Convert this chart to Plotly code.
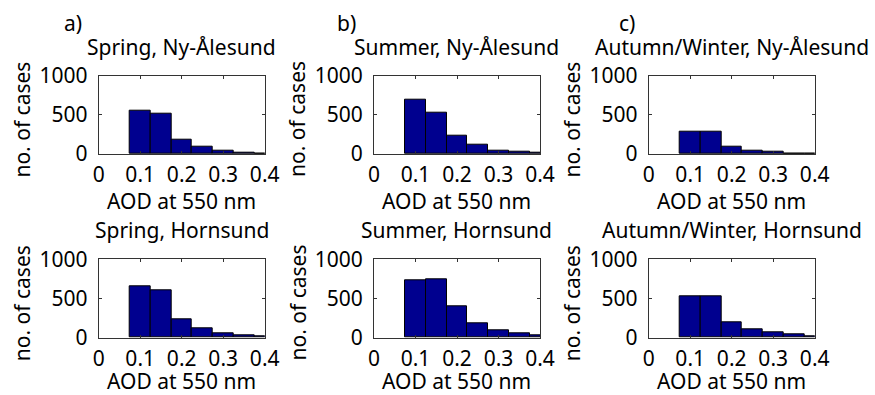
import plotly.graph_objects as go

# Histogram bin centres (AOD at 550 nm)
bin_centers = [0.10, 0.15, 0.20, 0.25, 0.30, 0.35, 0.40]
bin_width = 0.05

spring_ny = [553, 515, 187, 92, 43, 20, 3]
spring_hs = [651, 600, 230, 115, 51, 26, 13]
summer_ny = [698, 523, 238, 115, 43, 26, 13]
summer_hs = [732, 745, 404, 183, 94, 51, 30]
autumn_ny = [285, 285, 94, 45, 28, 5, 2]
autumn_hs = [528, 528, 196, 102, 64, 38, 17]

titles = ["Spring, Ny-Ålesund", "Summer, Ny-Ålesund", "Autumn/Winter, Ny-Ålesund",
          "Spring, Hornsund", "Summer, Hornsund", "Autumn/Winter, Hornsund"]
panel_letters = ["a)", "b)", "c)"]
x_ticks = [0, 0.1, 0.2, 0.3, 0.4]
x_ticktext = ["0", "0.1", "0.2", "0.3", "0.4"]
y_ticks = [0, 500, 1000]
x_label = "AOD at 550 nm"
y_label = "no. of cases"

series = [spring_ny, summer_ny, autumn_ny, spring_hs, summer_hs, autumn_hs]

W, H = 875, 395
FONT = "Noto Sans"
FS = 21
BAR_COLOR = "#00008F"

col_left = [98.7, 374.0, 648.7]
ax_w = 166.0
row_top = [75.7, 259.3]
ax_h = 78.4
xlabel_gap = [46.5, 43.0]

fig = go.Figure()
annotations = []

for i, vals in enumerate(series):
    r, c = divmod(i, 3)
    n = i + 1
    xa = "x" if n == 1 else f"x{n}"
    ya = "y" if n == 1 else f"y{n}"
    fig.add_trace(go.Bar(
        x=bin_centers, y=vals, width=bin_width,
        marker=dict(color=BAR_COLOR, line=dict(color="black", width=1)),
        xaxis=xa, yaxis=ya, showlegend=False, hoverinfo="x+y",
    ))
    x0 = col_left[c]
    x1 = x0 + ax_w
    y0 = row_top[r]
    y1 = y0 + ax_h
    axis_common = dict(showline=True, linecolor="#333333", linewidth=1, mirror="ticks",
                       ticks="inside", ticklen=3, tickcolor="#333333", showgrid=False,
                       zeroline=False, automargin=False,
                       tickfont=dict(family=FONT, size=FS, color="black"))
    fig.update_layout(**{
        ("xaxis" if n == 1 else f"xaxis{n}"): dict(
            domain=[x0 / W, x1 / W], anchor=ya, range=[0, 0.4],
            tickvals=x_ticks, ticktext=x_ticktext, ticklabelstandoff=2, **axis_common),
        ("yaxis" if n == 1 else f"yaxis{n}"): dict(
            domain=[1 - y1 / H, 1 - y0 / H], anchor=xa, range=[0, 1000],
            tickvals=y_ticks, ticklabelstandoff=6, **axis_common),
    })
    cx = (x0 + x1) / 2
    annotations.append(dict(text=titles[i], x=cx / W, y=1 - (y0 - 29) / H,
                            xref="paper", yref="paper", showarrow=False,
                            xanchor="center", yanchor="middle",
                            font=dict(family=FONT, size=FS, color="black")))
    annotations.append(dict(text=x_label, x=cx / W, y=1 - (y1 + xlabel_gap[r]) / H,
                            xref="paper", yref="paper", showarrow=False,
                            xanchor="center", yanchor="middle",
                            font=dict(family=FONT, size=FS, color="black")))
    annotations.append(dict(text=y_label, x=(x0 - 76.5) / W, y=1 - ((y0 + y1) / 2 + 4.5) / H,
                            xref="paper", yref="paper", showarrow=False, textangle=-90,
                            xanchor="center", yanchor="middle",
                            font=dict(family=FONT, size=FS, color="black")))

letter_x = [62, 335, 617]
for c, letter in enumerate(panel_letters):
    annotations.append(dict(text=letter, x=letter_x[c] / W, y=1 - 23 / H,
                            xref="paper", yref="paper", showarrow=False,
                            xanchor="left", yanchor="middle",
                            font=dict(family=FONT, size=FS, color="black")))

fig.update_layout(width=W, height=H, margin=dict(l=0, r=0, t=0, b=0, autoexpand=False),
                  paper_bgcolor="white", plot_bgcolor="white",
                  bargap=0, annotations=annotations)

fig.write_html("out.html", config={"displayModeBar": False},
               post_script="document.body.style.margin='0';document.body.style.overflow='hidden';")
